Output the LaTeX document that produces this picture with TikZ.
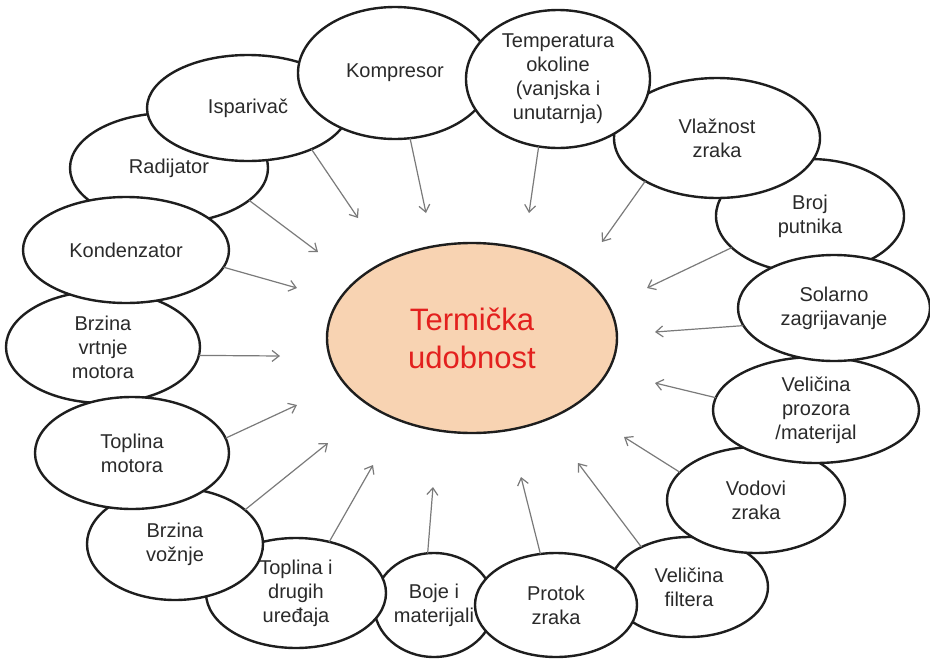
\documentclass[tikz,border=0pt]{standalone}
\usepackage{fontspec}
\setmainfont{Liberation Sans}
\usetikzlibrary{shapes.geometric,arrows.meta}
\definecolor{outline}{HTML}{1E1E1E}
\definecolor{labeltext}{HTML}{2A2A2A}
\definecolor{peach}{HTML}{F8D3B2}
\definecolor{hotred}{HTML}{E3201E}
\definecolor{arrowgray}{HTML}{7A7A7A}
\tikzset{
  factor/.style={ellipse, draw=outline, line width=2.4pt, fill=white,
    inner sep=0pt, outer sep=0pt, align=center, text=labeltext,
    font=\fontsize{20}{24}\selectfont},
  goal/.style={ellipse, draw=outline, line width=2.4pt, fill=peach,
    inner sep=0pt, outer sep=0pt, align=center, text=hotred,
    font=\fontsize{31}{38}\selectfont,
    minimum width=290pt, minimum height=190pt},
  influence/.style={draw=arrowgray, line width=1.2pt,
    -{Straight Barb[length=7pt,width=11pt,line width=1.2pt]}}
}
\begin{document}
\begin{tikzpicture}[x=1pt,y=-1pt]
\useasboundingbox (0,0) rectangle (930,659);

% outer ring of factors, drawn back to front
\node[factor, minimum width=198pt, minimum height=110pt] (rad) at (169,168) {Radijator};
\node[factor, minimum width=202pt, minimum height=106pt] (isp) at (248,108) {Isparivač};
\node[factor, minimum width=194pt, minimum height=132pt] (kom) at (395,73) {Kompresor};
\node[factor, minimum width=188pt, minimum height=114pt] (bro) at (810,216) {Broj\\putnika};
\node[factor, minimum width=206pt, minimum height=120pt] (vla) at (717,138) {Vlažnost\\zraka};
\node[factor, minimum width=184pt, minimum height=138pt] (tem) at (558,79) {Temperatura\\okoline\\(vanjska i\\unutarnja)};
\node[factor, minimum width=194pt, minimum height=112pt] (bvr) at (103,347) {Brzina\\vrtnje\\motora};
\node[factor, minimum width=206pt, minimum height=106pt] (kon) at (126,250) {Kondenzator};
\node[factor, minimum width=120pt, minimum height=104pt] (boj) at (434,605) {Boje i\\materijali};
\node[factor, minimum width=180pt, minimum height=110pt] (tdu) at (296,593) {Toplina i\\drugih\\uređaja};
\node[factor, minimum width=176pt, minimum height=112pt] (bvo) at (175,544) {Brzina\\vožnje};
\node[factor, minimum width=194pt, minimum height=112pt] (tmo) at (132,453) {Toplina\\motora};
\node[factor, minimum width=158pt, minimum height=100pt] (fil) at (689,587) {Veličina\\filtera};
\node[factor, minimum width=162pt, minimum height=104pt] (ptk) at (556,605) {Protok\\zraka};
\node[factor, minimum width=178pt, minimum height=106pt] (vod) at (756,500) {Vodovi\\zraka};
\node[factor, minimum width=206pt, minimum height=106pt] (pro) at (816,410) {Veličina\\prozora\\/materijal};
\node[factor, minimum width=192pt, minimum height=106pt] (sol) at (834,308) {Solarno\\zagrijavanje};

% central goal
\node[goal] (tu) at (472,338) {Termička\\udobnost};

% free ends of the influence arrows
\coordinate (e-isp) at (358,218);
\coordinate (e-kom) at (426,213);
\coordinate (e-tem) at (529,213);
\coordinate (e-vla) at (602,242);
\coordinate (e-bro) at (647,288);
\coordinate (e-sol) at (655,332);
\coordinate (e-pro) at (655,383);
\coordinate (e-vod) at (624,437);
\coordinate (e-fil) at (578,463);
\coordinate (e-ptk) at (521,477);
\coordinate (e-boj) at (433,487);
\coordinate (e-tdu) at (373,465);
\coordinate (e-bvo) at (328,443);
\coordinate (e-tmo) at (297,405);
\coordinate (e-bvr) at (280,356);
\coordinate (e-kon) at (297,288);
\coordinate (e-rad) at (318,252);

% influence arrows
\draw[influence] (isp.-33) -- (e-isp);
\draw[influence] (kom.-77) -- (e-kom);
\draw[influence] (tem.-106) -- (e-tem);
\draw[influence] (vla.-149) -- (e-vla);
\draw[influence] (bro.-158) -- (e-bro);
\draw[influence] (sol.-169) -- (e-sol);
\draw[influence] (pro.173) -- (e-pro);
\draw[influence] (vod.160) -- (e-vod);
\draw[influence] (fil.140) -- (e-fil);
\draw[influence] (ptk.107) -- (e-ptk);
\draw[influence] (boj.97) -- (e-boj);
\draw[influence] (tdu.57) -- (e-tdu);
\draw[influence] (bvo.26) -- (e-bvo);
\draw[influence] (tmo.9) -- (e-tmo);
\draw[influence] (bvr.-5) -- (e-bvr);
\draw[influence] (kon.-10) -- (e-kon);
\draw[influence] (rad.-22) -- (e-rad);
\end{tikzpicture}
\end{document}
